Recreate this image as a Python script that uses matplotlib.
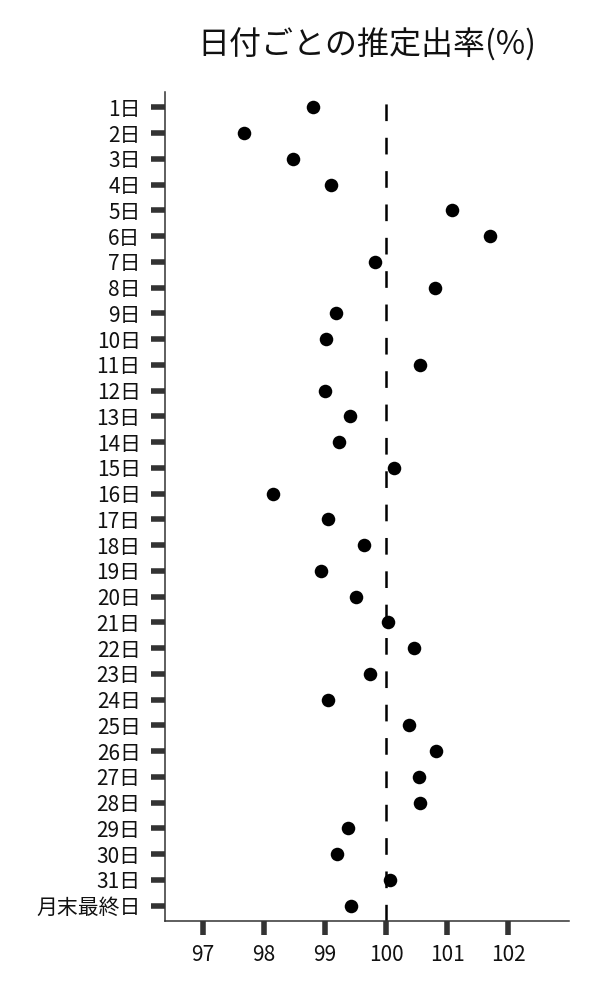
import matplotlib
matplotlib.use("Agg")
import matplotlib.pyplot as plt

plt.rcParams['font.family'] = ['Noto Sans CJK JP', 'DejaVu Sans']

labels = [f"{d}日" for d in range(1, 32)] + ["月末最終日"]
values = [98.80, 97.67, 98.48, 99.09, 101.08, 101.70, 99.82, 100.80,
          99.17, 99.01, 100.56, 99.00, 99.41, 99.23, 100.13, 98.15,
          99.04, 99.63, 98.93, 99.50, 100.03, 100.46, 99.74, 99.05,
          100.37, 100.81, 100.54, 100.55, 99.37, 99.19, 100.06, 99.42]
xticks = [97, 98, 99, 100, 101, 102]
reference = 100
title = "日付ごとの推定出率(%)"

fig = plt.figure(figsize=(6, 10), dpi=100)
ax = fig.add_axes([0.275, 0.079, 0.6733, 0.829])

ypos = list(range(len(labels)))
ax.axvline(reference, color='black', lw=1.8, linestyle=(0, (6.67, 6.67)), zorder=1)
ax.scatter(values, ypos, s=95, color='black', zorder=3, linewidths=0)

ax.set_yticks(ypos)
ax.set_yticklabels(labels)
ax.set_xticks(xticks)
ax.set_xticklabels([str(x) for x in xticks])
ax.set_xlim(96.38, 102.99)
ax.set_ylim(len(labels) - 1 + 0.6, -0.6)

for s in ['top', 'right']:
    ax.spines[s].set_visible(False)
for s in ['left', 'bottom']:
    ax.spines[s].set_color('#333333')
    ax.spines[s].set_linewidth(1.1)

ax.tick_params(axis='both', length=10, width=4, color='#333333',
               labelsize=15, labelcolor='#111111')
ax.tick_params(axis='y', pad=7.5)
ax.tick_params(axis='x', pad=6.5)

ax.set_title(title, fontsize=23, pad=27, color='#111111')

fig.savefig("out.png", dpi=100)
